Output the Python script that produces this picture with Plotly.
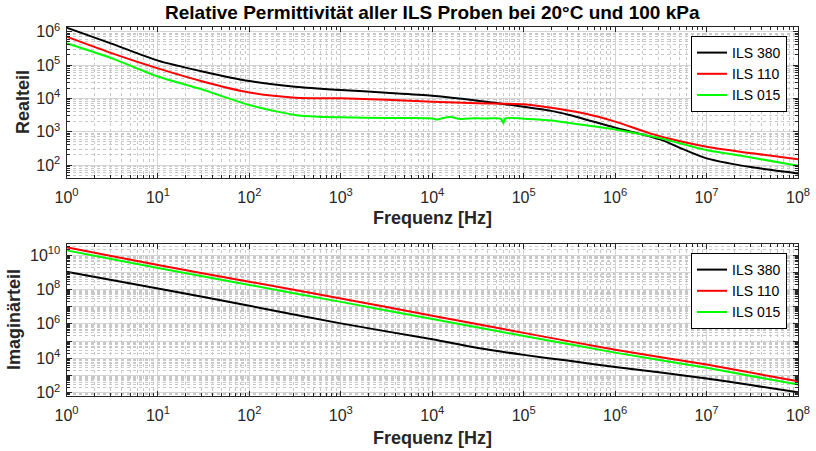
import plotly.graph_objects as go

# ---------------- data ----------------
series_names = ["ILS 380", "ILS 110", "ILS 015"]
series_colors = ["#000000", "#ff0000", "#00ff00"]

# Realteil (top)
re_f_380 = [1, 3.16, 10, 31.6, 100, 316, 1e3, 3.16e3, 1e4, 3.16e4, 1e5, 2e5, 3.16e5,
            1e6, 1.78e6, 3.16e6, 5.6e6, 1e7, 1.78e7, 3.16e7, 5.6e7, 1e8]
re_v_380 = [1.32e6, 4.3e5, 1.35e5, 6.3e4, 3.3e4, 2.24e4, 1.78e4, 1.48e4, 1.2e4, 8.5e3, 5.6e3, 4.2e3, 3.16e3,
            1.32e3, 890, 575, 295, 158, 112, 85, 68, 56]

re_f_110 = [1, 3.16, 10, 31.6, 100, 316, 1e3, 3.16e3, 1e4, 3.16e4, 1e5, 2e5, 4.5e5,
            1e6, 2.4e6, 5e6, 1e7, 3.16e7, 1e8]
re_v_110 = [7.1e5, 2.24e5, 7.9e4, 3.16e4, 1.5e4, 1.05e4, 1.0e4, 9.1e3, 7.9e3, 7.1e3, 6.6e3, 5.2e3, 3.55e3,
            2.0e3, 890, 525, 355, 224, 148]

re_f_015 = [1, 3.16, 10, 31.6, 100, 316, 562, 1e3, 3.16e3, 1e4, 1.12e4, 1.26e4, 1.58e4, 2e4, 2.5e4,
            4e4, 5.6e4, 6e4, 6.3e4, 1e5, 2e5, 4e5, 1e6, 3.16e6, 1e7, 3.16e7, 1e8]
re_v_015 = [4.5e5, 1.58e5, 4.5e4, 1.78e4, 6.3e3, 3.16e3, 2.8e3, 2.7e3, 2.57e3, 2.5e3, 2.3e3, 2.5e3, 2.75e3, 2.4e3, 2.5e3,
            2.5e3, 2.45e3, 1.8e3, 2.5e3, 2.45e3, 2.15e3, 1.66e3, 1.17e3, 630, 280, 166, 95]

# Imaginärteil (bottom)
im_f_380 = [1, 10, 100, 1e3, 1e4, 3.16e4, 1e5, 3.16e5, 1e6, 3.16e6, 1e7, 3.16e7, 1e8]
im_v_380 = [1.07e9, 1.15e8, 1.12e7, 1.07e6, 1.26e5, 4.0e4, 1.58e4, 7.1e3, 3.16e3, 1.48e3, 676, 270, 105]

im_f_110 = [1, 10, 100, 1e3, 1e4, 1e5, 1e6, 1e7, 1e8]
im_v_110 = [2.8e10, 2.6e9, 2.8e8, 3.0e7, 2.95e6, 3.0e5, 3.16e4, 4.3e3, 470]

im_f_015 = [1, 10, 100, 1e3, 1e4, 1e5, 1e6, 1e7, 1e8]
im_v_015 = [1.86e10, 1.78e9, 1.82e8, 1.9e7, 1.9e6, 2.0e5, 2.14e4, 2.8e3, 295]

# tick labels
x_tickvals = [1e0, 1e1, 1e2, 1e3, 1e4, 1e5, 1e6, 1e7, 1e8]
x_ticktext = ["10<sup>0</sup>", "10<sup>1</sup>", "10<sup>2</sup>", "10<sup>3</sup>", "10<sup>4</sup>",
              "10<sup>5</sup>", "10<sup>6</sup>", "10<sup>7</sup>", "10<sup>8</sup>"]
re_tickvals = [1e2, 1e3, 1e4, 1e5, 1e6]
re_ticktext = ["10<sup>2</sup>", "10<sup>3</sup>", "10<sup>4</sup>", "10<sup>5</sup>", "10<sup>6</sup>"]
im_tickvals = [1e2, 1e3, 1e4, 1e5, 1e6, 1e7, 1e8, 1e9, 1e10]
im_ticktext = ["10<sup>2</sup>", "", "10<sup>4</sup>", "", "10<sup>6</sup>", "", "10<sup>8</sup>", "",
               "10<sup>10</sup>"]

title_text = "Relative Permittivität aller ILS Proben bei 20°C und 100 kPa"
xlabel_text = "Frequenz [Hz]"
ylabel_top = "Realteil"
ylabel_bottom = "Imaginärteil"

# ---------------- figure ----------------
W, H = 816, 451
FONT = "Liberation Sans, Arial, Helvetica, sans-serif"
AXC = "#262626"

def px(x):
    return x / W

def py(y):
    return 1 - y / H

def minor_vals(e0, e1):
    return [m * 10 ** e for e in range(e0, e1 + 1) for m in range(2, 10)]

fig = go.Figure()

top_sets = [(re_f_380, re_v_380), (re_f_110, re_v_110), (re_f_015, re_v_015)]
bot_sets = [(im_f_380, im_v_380), (im_f_110, im_v_110), (im_f_015, im_v_015)]

for (f, v), name, col in zip(top_sets, series_names, series_colors):
    fig.add_trace(go.Scatter(x=f, y=v, mode="lines", name=name,
                             line=dict(color=col, width=2, shape="spline", smoothing=0.7),
                             xaxis="x", yaxis="y", legend="legend"))
for (f, v), name, col in zip(bot_sets, series_names, series_colors):
    fig.add_trace(go.Scatter(x=f, y=v, mode="lines", name=name,
                             line=dict(color=col, width=2, shape="spline", smoothing=0.7),
                             xaxis="x2", yaxis="y2", legend="legend2"))

x_dom = [px(66.5), px(798)]
top_dom = [py(178), py(27)]
bot_dom = [py(396), py(244)]

def axis_common():
    return dict(
        type="log", showline=True, linecolor=AXC, linewidth=1, mirror="allticks",
        ticks="inside", ticklen=5, tickcolor=AXC, tickwidth=1,
        showgrid=True, gridcolor="#d4d4d4", gridwidth=1,
        tickfont=dict(family=FONT, size=16, color=AXC),
        zeroline=False, tickmode="array", automargin=False,
    )

def minor_cfg(vals):
    return dict(tickmode="array", tickvals=vals, ticks="inside", ticklen=3, tickcolor=AXC,
                showgrid=True, gridcolor="#c8c8c8", griddash="dot", gridwidth=1)

legend_common = dict(bgcolor="white", bordercolor="#000000", borderwidth=1, itemwidth=30,
                     font=dict(family=FONT, size=14, color="#000000"), tracegroupgap=0)

fig.update_layout(
    width=W, height=H,
    margin=dict(l=0, r=0, t=0, b=0, pad=0, autoexpand=False),
    paper_bgcolor="white", plot_bgcolor="white",
    showlegend=True,
    xaxis=dict(**axis_common(), domain=x_dom, anchor="y", range=[0, 8], ticklabelstandoff=5,
               tickvals=x_tickvals, ticktext=x_ticktext, minor=minor_cfg(minor_vals(0, 7))),
    yaxis=dict(**axis_common(), domain=top_dom, anchor="x", range=[1.61, 6.14], ticklabelstandoff=2,
               tickvals=re_tickvals, ticktext=re_ticktext, minor=minor_cfg(minor_vals(1, 6))),
    xaxis2=dict(**axis_common(), domain=x_dom, anchor="y2", range=[0, 8], ticklabelstandoff=5,
                tickvals=x_tickvals, ticktext=x_ticktext, minor=minor_cfg(minor_vals(0, 7))),
    yaxis2=dict(**axis_common(), domain=bot_dom, anchor="x2", range=[1.81, 10.64], ticklabelstandoff=2,
                tickvals=im_tickvals, ticktext=im_ticktext, minor=minor_cfg(minor_vals(1, 10))),
    legend=dict(x=px(787), xanchor="right", y=py(36), yanchor="top", **legend_common),
    legend2=dict(x=px(787), xanchor="right", y=py(253), yanchor="top", **legend_common),
)

annos = [
    dict(text=title_text, x=px(432.5), y=py(12), font=dict(size=19, weight="bold", color="#000000")),
    dict(text=xlabel_text, x=px(432.5), y=py(218), font=dict(size=18, weight="bold", color=AXC)),
    dict(text=xlabel_text, x=px(432.5), y=py(438), font=dict(size=18, weight="bold", color=AXC)),
    dict(text=ylabel_top, x=px(23), y=py(102), textangle=-90, font=dict(size=18, weight="bold", color=AXC)),
    dict(text=ylabel_bottom, x=px(14), y=py(320), textangle=-90, font=dict(size=18, weight="bold", color=AXC)),
]
for a in annos:
    a["font"]["family"] = FONT
    fig.add_annotation(xref="paper", yref="paper", xanchor="center", yanchor="middle",
                       showarrow=False, **a)

# remove the browser's default 8px page margin so the figure sits at the window's corner
fig.write_html("out.html", config={"displayModeBar": False},
               post_script="document.body.style.margin='0';document.body.style.overflow='hidden';")
